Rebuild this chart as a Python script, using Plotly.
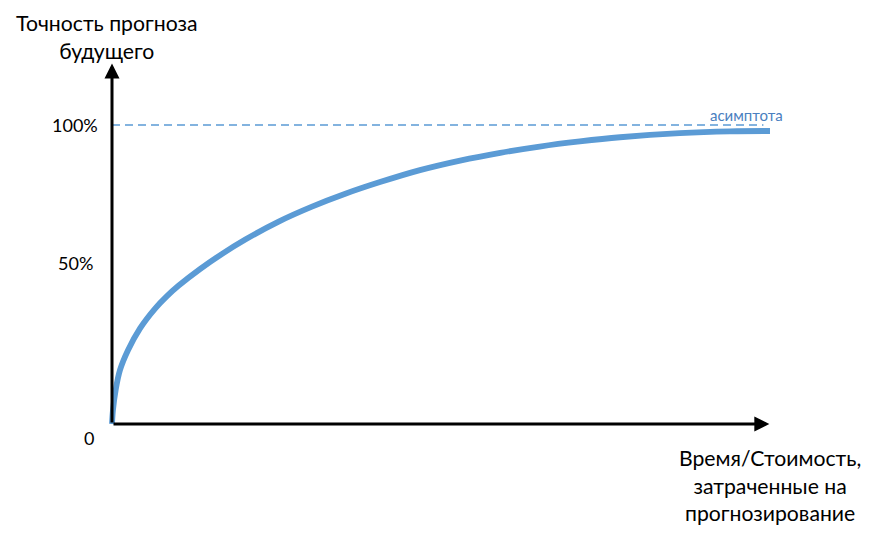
import plotly.graph_objects as go

# Curve: effort spent (x, % of axis length) vs forecast accuracy (y, %)
effort = [0, 0.15, 0.56, 1.22, 2.43, 4.26, 6.58, 8.31, 10.14, 13.37, 16.8, 20.26, 25.33,
          30.4, 35.46, 40.73, 46.8, 52.9, 59.0, 65.0, 71.1, 77.2, 86.3, 93.9, 100]
accuracy = [0, 4.7, 11.4, 18.1, 24.7, 32.0, 38.7, 42.7, 46.3, 51.8, 57.0, 61.7, 67.7,
            72.7, 77.0, 80.9, 84.9, 88.1, 90.7, 92.8, 94.5, 95.9, 97.3, 97.9, 98.0]

asymptote_value = 100
tick_values = [100, 54, -4.7]
tick_labels = ["100%", "50%", "0"]

y_title = "Точность прогноза<br>будущего"
x_title = "Время/Стоимость,<br>затраченные на<br>прогнозирование"
asym_label = "асимптота"

# layout helpers (label placement)
tick_label_x = [-1.8, -2.6, -2.45]

BLUE = "#5B9BD5"
FONT = "Lato"

fig = go.Figure()

# asymptote dashed line
fig.add_trace(go.Scatter(
    x=[0, 99], y=[asymptote_value, asymptote_value], mode="lines",
    line=dict(color=BLUE, width=1.5, dash="8px,5px"), hoverinfo="skip", showlegend=False))

# main curve
fig.add_trace(go.Scatter(
    x=effort, y=accuracy, mode="lines",
    line=dict(color=BLUE, width=5.8, shape="spline", smoothing=1.0),
    hoverinfo="skip", showlegend=False))

annotations = []
# axes drawn as arrows
annotations.append(dict(x=0, y=120.6, ax=0, ay=0, xref="x", yref="y", axref="x", ayref="y",
                        showarrow=True, arrowhead=2, arrowsize=1, arrowwidth=3, arrowcolor="black", text=""))
annotations.append(dict(x=99.9, y=0, ax=0, ay=0, xref="x", yref="y", axref="x", ayref="y",
                        showarrow=True, arrowhead=2, arrowsize=1, arrowwidth=3, arrowcolor="black", text=""))

for lx, v, lab in zip(tick_label_x, tick_values, tick_labels):
    annotations.append(dict(x=lx, y=v, xref="x", yref="y", text=lab, showarrow=False,
                            xanchor="right", yanchor="middle",
                            font=dict(family=FONT, size=18, color="black")))

annotations.append(dict(x=-0.8, y=129.3, xref="x", yref="y", text=y_title, showarrow=False,
                        xanchor="center", yanchor="middle", align="center",
                        font=dict(family=FONT, size=21.2, color="black")))
annotations.append(dict(x=100, y=-20.6, xref="x", yref="y", text=x_title, showarrow=False,
                        xanchor="center", yanchor="middle", align="center",
                        font=dict(family=FONT, size=21.2, color="black")))
annotations.append(dict(x=96.4, y=103.4, xref="x", yref="y", text=asym_label, showarrow=False,
                        xanchor="center", yanchor="middle",
                        font=dict(family=FONT, size=15, color="#4A80C0")))

fig.update_layout(
    width=871, height=530,
    margin=dict(l=0, r=0, t=0, b=0),
    paper_bgcolor="white", plot_bgcolor="white",
    xaxis=dict(range=[-15.805, 116.565], visible=False, fixedrange=True),
    yaxis=dict(range=[-38.13, 139.13], visible=False, fixedrange=True),
    annotations=annotations,
    showlegend=False,
)

fig.write_html("out.html")
